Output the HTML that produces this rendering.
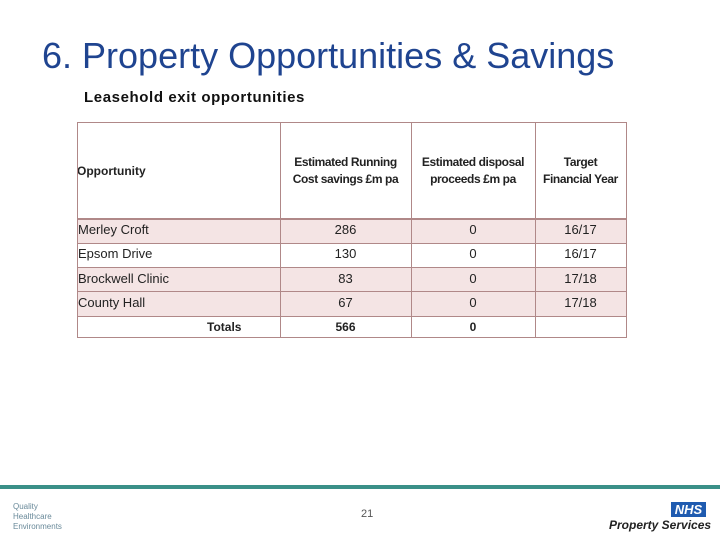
<!DOCTYPE html>
<html><head><meta charset="utf-8"><style>
body{margin:0;width:720px;height:540px;background:#fff;position:relative;overflow:hidden;font-family:"Liberation Sans",sans-serif}
.a{position:absolute}
.c{position:absolute;box-sizing:border-box;font-size:13px;color:#222;display:flex;align-items:center}
.h{font-size:12px;justify-content:center;text-align:center;line-height:17px;font-weight:bold;letter-spacing:-0.4px}
.n{justify-content:center}
.p{background:#f4e4e4}
.l{position:absolute;background:#b08888}
</style></head><body>
<div class="a" style="left:42px;top:35px;font-size:36px;color:#1f4490">6. Property Opportunities &amp; Savings</div>
<div class="a" style="left:84px;top:89px;font-size:15px;font-weight:bold;letter-spacing:0.6px;color:#111">Leasehold exit opportunities</div>
<div>
<div class="c" style="left:77px;top:122px;width:203px;height:97px;font-size:12px;font-weight:bold">Opportunity</div>
<div class="c h" style="left:280px;top:122px;width:131px;height:97px">Estimated Running<br>Cost savings £m pa</div>
<div class="c h" style="left:411px;top:122px;width:124px;height:97px">Estimated disposal<br>proceeds £m pa</div>
<div class="c h" style="left:535px;top:122px;width:91px;height:97px">Target<br>Financial Year</div>
<div class="c p" style="left:77px;top:219px;width:549px;height:24px"></div>
<div class="c p" style="left:77px;top:268px;width:549px;height:24px"></div>
<div class="c p" style="left:77px;top:292px;width:549px;height:24px"></div>
<div class="c" style="left:78px;top:219px;width:200px;height:20px">Merley Croft</div>
<div class="c n" style="left:280px;top:219px;width:131px;height:20px">286</div>
<div class="c n" style="left:411px;top:219px;width:124px;height:20px">0</div>
<div class="c n" style="left:535px;top:219px;width:91px;height:20px">16/17</div>
<div class="c" style="left:78px;top:243px;width:200px;height:20px">Epsom Drive</div>
<div class="c n" style="left:280px;top:243px;width:131px;height:20px">130</div>
<div class="c n" style="left:411px;top:243px;width:124px;height:20px">0</div>
<div class="c n" style="left:535px;top:243px;width:91px;height:20px">16/17</div>
<div class="c" style="left:78px;top:268px;width:200px;height:20px">Brockwell Clinic</div>
<div class="c n" style="left:280px;top:268px;width:131px;height:20px">83</div>
<div class="c n" style="left:411px;top:268px;width:124px;height:20px">0</div>
<div class="c n" style="left:535px;top:268px;width:91px;height:20px">17/18</div>
<div class="c" style="left:78px;top:292px;width:200px;height:20px">County Hall</div>
<div class="c n" style="left:280px;top:292px;width:131px;height:20px">67</div>
<div class="c n" style="left:411px;top:292px;width:124px;height:20px">0</div>
<div class="c n" style="left:535px;top:292px;width:91px;height:20px">17/18</div>
<div class="c" style="left:207px;top:316px;width:70px;height:21px;font-size:12px;font-weight:bold">Totals</div>
<div class="c n" style="left:280px;top:316px;width:131px;height:21px;font-size:12px;font-weight:bold">566</div>
<div class="c n" style="left:411px;top:316px;width:124px;height:21px;font-size:12px;font-weight:bold">0</div>
<div class="l" style="left:77px;top:122px;width:550px;height:1px"></div>
<div class="l" style="left:77px;top:218px;width:550px;height:2px"></div>
<div class="l" style="left:77px;top:243px;width:550px;height:1px"></div>
<div class="l" style="left:77px;top:267px;width:550px;height:1px"></div>
<div class="l" style="left:77px;top:291px;width:550px;height:1px"></div>
<div class="l" style="left:77px;top:316px;width:550px;height:1px"></div>
<div class="l" style="left:77px;top:337px;width:550px;height:1px"></div>
<div class="l" style="left:77px;top:122px;width:1px;height:216px"></div>
<div class="l" style="left:280px;top:122px;width:1px;height:216px"></div>
<div class="l" style="left:411px;top:122px;width:1px;height:216px"></div>
<div class="l" style="left:535px;top:122px;width:1px;height:216px"></div>
<div class="l" style="left:626px;top:122px;width:1px;height:216px"></div>
</div>
<div class="a" style="left:0;top:485px;width:720px;height:4px;background:#3a9088"></div>
<div class="a" style="left:13px;top:502px;font-size:8px;line-height:10px;color:#6a8a9a">Quality<br>Healthcare<br>Environments</div>
<div class="a" style="left:361px;top:508px;font-size:11px;color:#555">21</div>
<div class="a" style="left:671px;top:502px;width:35px;height:15px;background:#1f5bb0;color:#fff;font-weight:bold;font-style:italic;font-size:13px;text-align:center;line-height:15px">NHS</div>
<div class="a" style="left:609px;top:518px;font-size:12px;font-weight:bold;font-style:italic;color:#222">Property Services</div>
</body></html>
